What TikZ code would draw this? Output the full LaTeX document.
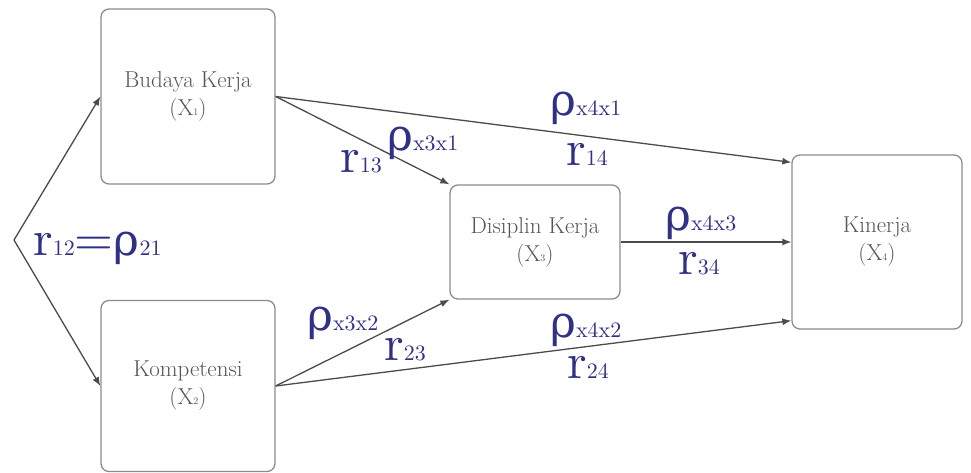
\documentclass[tikz,border=0pt]{standalone}
\usepackage{fontspec}
\newfontfamily\rhofont{DejaVu Serif}
\newfontfamily\labfont{lmroman10-regular}[Extension=.otf]
\usetikzlibrary{arrows.meta}
\definecolor{labblue}{RGB}{48,48,135}
\definecolor{boxtext}{RGB}{85,85,85}
\definecolor{boxline}{RGB}{140,140,140}
\definecolor{arrline}{RGB}{75,75,75}
\newcommand{\pathlab}[2]{{\fontsize{50}{50}\selectfont #1}{\fontsize{22}{22}\selectfont #2}}
\newcommand{\rh}{{\rhofont\fontsize{44}{44}\selectfont ρ}}
\newcommand{\smallsub}[1]{{\fontsize{10}{10}\selectfont #1}}
\tikzset{
  varbox/.style={draw=boxline, line width=1.3pt, rounded corners=8pt, align=center,
    text=boxtext, font=\fontsize{23}{28}\selectfont, inner sep=0pt},
  conn/.style={draw=arrline, line width=1.3pt, -{Latex[length=9pt,width=7pt]}},
  lbl/.style={text=labblue, anchor=base west, inner sep=0pt, font=\labfont}
}
\begin{document}
\begin{tikzpicture}[x=1pt,y=-1pt]
\useasboundingbox (0,0) rectangle (971,473);
\node[varbox, minimum width=174pt, minimum height=175pt] (b1) at (188,96.5) {Budaya Kerja\\(X\smallsub{1})};
\node[varbox, minimum width=174pt, minimum height=171pt] (b2) at (188,386) {Kompetensi\\(X\smallsub{2})};
\node[varbox, minimum width=170pt, minimum height=114pt] (b3) at (535,242) {Disiplin Kerja\\(X\smallsub{3})};
\node[varbox, minimum width=170pt, minimum height=174pt] (b4) at (877,242) {Kinerja\\(X\smallsub{4})};
\coordinate (apex) at (14,240);
\draw[conn] (apex) -- (b1.west);
\draw[conn] (apex) -- (b2.west);
\draw[conn] (b1.east) -- (b3.north west);
\draw[conn] (b1.east) -- ([yshift=-8pt]b4.north west);
\draw[conn] (b2.east) -- (b3.south west);
\draw[conn] (b2.east) -- ([yshift=9pt]b4.south west);
\draw[conn] (b3.east) -- (b4.west);
\node[lbl] (l12) at (33,255) {\pathlab{r}{12}{\fontsize{50}{50}\selectfont =}\pathlab{\rh}{21}};
\node[lbl] (l13) at (340,173) {\pathlab{r}{13}};
\node[lbl] (lx3x1) at (387,151) {\pathlab{\rh}{x3x1}};
\node[lbl] (lx4x1) at (550,116) {\pathlab{\rh}{x4x1}};
\node[lbl] (l14) at (566,166) {\pathlab{r}{14}};
\node[lbl] (lx4x3) at (665,230) {\pathlab{\rh}{x4x3}};
\node[lbl] (l34) at (678,274) {\pathlab{r}{34}};
\node[lbl] (lx3x2) at (307,330) {\pathlab{\rh}{x3x2}};
\node[lbl] (l23) at (384,360) {\pathlab{r}{23}};
\node[lbl] (lx4x2) at (550,337) {\pathlab{\rh}{x4x2}};
\node[lbl] (l24) at (567,378) {\pathlab{r}{24}};
\end{tikzpicture}
\end{document}
